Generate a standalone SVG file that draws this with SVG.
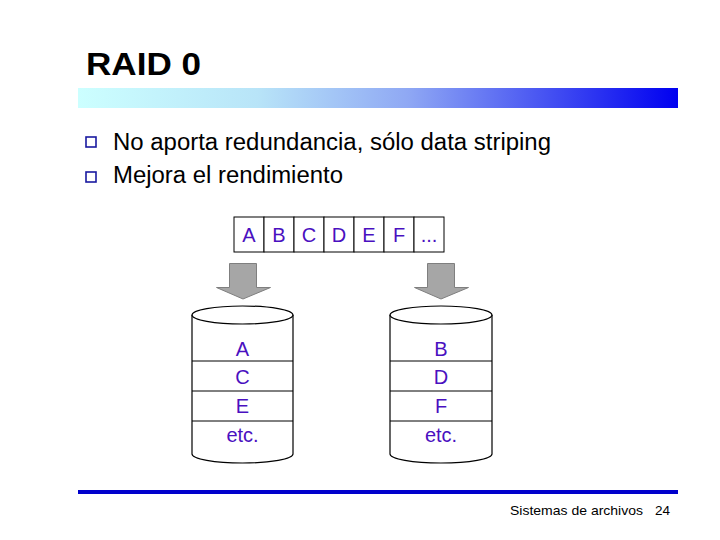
<svg xmlns="http://www.w3.org/2000/svg" width="720" height="540" viewBox="0 0 720 540">
<defs>
<linearGradient id="bar" x1="0" y1="0" x2="1" y2="0">
<stop offset="0" stop-color="#CCFFFF"/>
<stop offset="0.3" stop-color="#B8E4F8"/>
<stop offset="0.55" stop-color="#8FA8F4"/>
<stop offset="1" stop-color="#0000F0"/>
</linearGradient>
</defs>
<style>
.t{font-family:"Liberation Sans",Arial,sans-serif;fill:#000}
.p{font-family:"Liberation Sans",Arial,sans-serif;fill:#4A10C0;font-size:20px;text-anchor:middle}
.cell{fill:#fff;stroke:#000;stroke-width:1}
.cyl{fill:#fff;stroke:#000;stroke-width:1.2}
.ln{stroke:#000;stroke-width:1}
.arr{fill:#A6A6A6;stroke:#7F7F7F;stroke-width:1}
.bul{fill:#fff;stroke:#1A1AA0;stroke-width:1.6}
</style>
<rect width="720" height="540" fill="#fff"/>
<text class="t" x="86" y="75" font-size="32" font-weight="bold" textLength="115" lengthAdjust="spacingAndGlyphs">RAID 0</text>
<rect x="78" y="88" width="600" height="20" fill="url(#bar)"/>
<g id="bullets">
<rect class="bul" x="86" y="137" width="10" height="10"/>
<rect class="bul" x="86" y="172" width="10" height="10"/>
<text class="t" x="113" y="150" font-size="23" textLength="438" lengthAdjust="spacingAndGlyphs">No aporta redundancia, sólo data striping</text>
<text class="t" x="113" y="183" font-size="23" textLength="230" lengthAdjust="spacingAndGlyphs">Mejora el rendimiento</text>
</g>
<g id="stripe">
<rect class="cell" x="234" y="217" width="30" height="35"/>
<rect class="cell" x="264" y="217" width="30" height="35"/>
<rect class="cell" x="294" y="217" width="30" height="35"/>
<rect class="cell" x="324" y="217" width="30" height="35"/>
<rect class="cell" x="354" y="217" width="30" height="35"/>
<rect class="cell" x="384" y="217" width="30" height="35"/>
<rect class="cell" x="414" y="217" width="30" height="35"/>
<text class="p" x="249" y="242">A</text>
<text class="p" x="279" y="242">B</text>
<text class="p" x="309" y="242">C</text>
<text class="p" x="339" y="242">D</text>
<text class="p" x="369" y="242">E</text>
<text class="p" x="399" y="242">F</text>
<text class="p" x="429" y="242">...</text>
</g>
<g id="connectors">
<path class="arr" d="M229.5,263.5 H256.5 V287.5 H270.5 L243,299 L216.5,287.5 H229.5 Z"/>
<path class="arr" d="M427.5,263.5 H454.5 V287.5 H468.5 L441,299 L414.5,287.5 H427.5 Z"/>
</g>
<g id="disk1">
<path class="cyl" d="M192,315 V454 A50.5,9 0 0 0 293,454 V315"/>
<ellipse class="cyl" cx="242.5" cy="315" rx="50.5" ry="9"/>
<line class="ln" x1="192" y1="361" x2="293" y2="361"/>
<line class="ln" x1="192" y1="391" x2="293" y2="391"/>
<line class="ln" x1="192" y1="421" x2="293" y2="421"/>
<text class="p" x="242.5" y="356">A</text>
<text class="p" x="242.5" y="384">C</text>
<text class="p" x="242.5" y="413">E</text>
<text class="p" x="242.5" y="442" font-size="19">etc.</text>
</g>
<g id="disk2">
<path class="cyl" d="M390,315 V454 A51,9 0 0 0 492,454 V315"/>
<ellipse class="cyl" cx="441" cy="315" rx="51" ry="9"/>
<line class="ln" x1="390" y1="361" x2="492" y2="361"/>
<line class="ln" x1="390" y1="391" x2="492" y2="391"/>
<line class="ln" x1="390" y1="421" x2="492" y2="421"/>
<text class="p" x="441" y="356">B</text>
<text class="p" x="441" y="384">D</text>
<text class="p" x="441" y="413">F</text>
<text class="p" x="441" y="442" font-size="19">etc.</text>
</g>
<rect x="78" y="490" width="600" height="4" fill="#0000CC"/>
<text class="t" x="510" y="515" font-size="13.5" textLength="133" lengthAdjust="spacingAndGlyphs">Sistemas de archivos</text>
<text class="t" x="655" y="515" font-size="13.5">24</text>
</svg>
